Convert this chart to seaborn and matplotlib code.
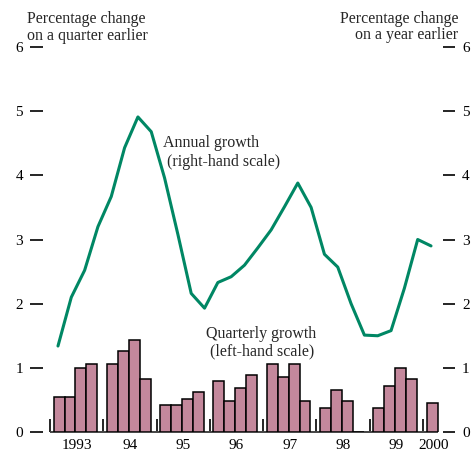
"""Quarterly and annual growth chart, 1993-2000."""

import pandas as pd
import matplotlib.pyplot as plt
import seaborn as sns

years = [1993, 1994, 1995, 1996, 1997, 1998, 1999, 2000]
year_labels = ["1993", "94", "95", "96", "97", "98", "99", "2000"]

# percentage change on a quarter earlier, 1993 Q1 - 2000 Q1
quarterly = [0.55, 0.55, 0.99, 1.06,
             1.06, 1.27, 1.43, 0.82,
             0.42, 0.42, 0.51, 0.62,
             0.79, 0.49, 0.69, 0.89,
             1.06, 0.86, 1.06, 0.49,
             0.38, 0.65, 0.49, 0.00,
             0.38, 0.72, 0.99, 0.82,
             0.45]

# percentage change on a year earlier, 1993 Q1 - 2000 Q1
annual = [1.34, 2.10, 2.52, 3.20,
          3.67, 4.43, 4.91, 4.68,
          3.96, 3.08, 2.16, 1.93,
          2.33, 2.42, 2.60, 2.87,
          3.15, 3.51, 3.88, 3.50,
          2.77, 2.57, 2.00, 1.51,
          1.50, 1.58, 2.24, 3.00,
          2.90]

BAR_COLOR = "#C4889C"
LINE_COLOR = "#008764"

# quarter positions on a numeric year axis
n = len(quarterly)
year_of = [years[0] + i // 4 for i in range(n)]
qtr_of = [i % 4 for i in range(n)]
df = pd.DataFrame({
    "bar_x": [y + 0.17 + 0.205 * q for y, q in zip(year_of, qtr_of)],
    "line_x": [y + 0.15 + 0.25 * q for y, q in zip(year_of, qtr_of)],
    "quarterly": quarterly,
    "annual": annual,
})

sns.set_theme(style="white")
plt.rcParams["font.family"] = ["Liberation Serif", "DejaVu Serif"]

fig = plt.figure(figsize=(4.74, 4.55), dpi=100)
W, H = 474, 455
ax = fig.add_axes([30 / W, (H - 432) / H, 425 / W, 385 / H])

sns.barplot(data=df, x="bar_x", y="quarterly", native_scale=True, width=1.0,
            color=BAR_COLOR, saturation=1, edgecolor="black", linewidth=1.1,
            errorbar=None, ax=ax, zorder=2)
ax.hlines(0, 1993, 2000.28, color="#444444", lw=1.4, clip_on=False, zorder=1)

ax2 = ax.twinx()
sns.lineplot(data=df, x="line_x", y="annual", color=LINE_COLOR, lw=2.2, ax=ax2)

for a in (ax, ax2):
    a.set_ylim(0, 6)
    a.set_yticks(range(7))
    a.set_xlim(1992.625, 2000.6)
    a.set_xlabel("")
    a.set_ylabel("")
    for s in a.spines.values():
        s.set_visible(False)

ax.tick_params(axis="y", direction="in", length=9, width=1.2, pad=5,
               labelsize=11, colors="black", left=True)
ax2.tick_params(axis="y", direction="in", length=9, width=1.2, pad=5,
                labelsize=11, colors="black", right=True)

# year boundaries as ticks, labels between them
ax.set_xticks(years)
ax.set_xticklabels([])
ax.set_xticks([y + 0.5 for y in years[:-1]] + [2000.2], minor=True)
ax.set_xticklabels(year_labels, minor=True)
ax.tick_params(axis="x", which="major", direction="in", length=9.5, width=1.2,
               bottom=True, colors="black")
ax.tick_params(axis="x", which="minor", length=0, pad=5, labelsize=11,
               bottom=True, labelcolor="black")

ax.text(1995.125, 4.50, "Annual growth", fontsize=11.5, va="center", ha="left")
ax.text(1995.19, 4.21, "(right-hand scale)", fontsize=11.5, va="center", ha="left")
ax.text(1995.93, 1.53, "Quarterly growth", fontsize=11.5, va="center", ha="left")
ax.text(1996.0, 1.25, "(left-hand scale)", fontsize=11.5, va="center", ha="left")

fig.text(27 / W, 1 - 19 / H, "Percentage change", fontsize=11.5, va="center", ha="left")
fig.text(27 / W, 1 - 36 / H, "on a quarter earlier", fontsize=11.5, va="center", ha="left")
fig.text(458 / W, 1 - 19 / H, "Percentage change", fontsize=11.5, va="center", ha="right")
fig.text(458 / W, 1 - 35 / H, "on a year earlier", fontsize=11.5, va="center", ha="right")

fig.savefig("out.png", dpi=100)
plt.close(fig)
